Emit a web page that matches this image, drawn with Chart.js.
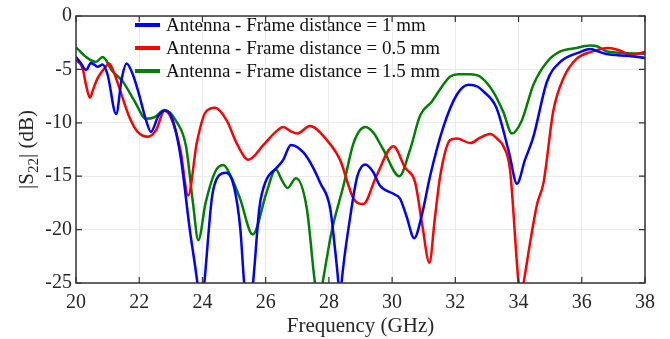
<!DOCTYPE html>
<html>
<head>
<meta charset="utf-8">
<script src="https://cdn.jsdelivr.net/npm/chart.js@4/dist/chart.umd.min.js"></script>
<style>
html,body{margin:0;padding:0;background:#fff;}
canvas{display:block;}
</style>
</head>
<body>
<canvas id="c" width="670" height="339"></canvas>
<script>
// ---- data ----
const seriesLabels = [
  "Antenna - Frame distance = 1 mm",
  "Antenna - Frame distance = 0.5 mm",
  "Antenna - Frame distance = 1.5 mm"
];
const xTicks = [20,22,24,26,28,30,32,34,36,38];
const yTicks = [0,-5,-10,-15,-20,-25];

const freq1mm = [20.0,20.15,20.32,20.47,20.69,20.84,21.0,21.27,21.45,21.6,21.8,22.0,22.2,22.37,22.6,22.8,23.0,23.3,23.6,23.84,23.95,24.06,24.3,24.5,24.75,25.0,25.2,25.32,25.46,25.6,25.8,26.0,26.35,26.55,26.8,27.2,27.5,27.72,28.04,28.2,28.3,28.35,28.4,28.67,28.9,29.15,29.4,29.62,30.04,30.25,30.45,30.7,30.95,31.2,31.62,32.05,32.42,32.7,32.88,33.3,33.7,33.95,34.2,34.47,34.9,35.32,35.95,36.27,36.5,36.74,37.5,38.0];
const s22_1mm = [-3.84,-4.4,-5.06,-4.39,-4.75,-4.54,-5.5,-9.18,-5.8,-4.45,-5.5,-7.4,-9.6,-10.85,-9.4,-8.87,-9.3,-13,-20,-25,-28,-25,-17,-15,-14.67,-16,-20,-25,-28,-25,-18,-15.5,-14.2,-13.5,-12.07,-12.8,-14.2,-15.6,-18.0,-22,-25,-27,-25,-18.9,-15,-13.9,-14.6,-15.9,-16.65,-17.1,-18.7,-20.8,-18.5,-15.0,-10.4,-7.35,-6.43,-6.6,-7.04,-8.6,-12.8,-15.7,-13.5,-11.3,-6.13,-4.3,-3.38,-3.08,-3.3,-3.53,-3.75,-3.93];

const freq05mm = [20.0,20.21,20.32,20.44,20.55,20.69,20.9,21.05,21.2,21.37,21.69,21.95,22.27,22.53,22.8,23.0,23.3,23.55,23.82,24.1,24.4,24.77,25.08,25.45,25.93,26.3,26.56,26.8,27.0,27.4,27.93,28.35,28.78,29.09,29.5,30.04,30.41,30.73,30.95,31.18,31.35,31.52,31.84,32.05,32.47,32.78,33.1,33.36,33.52,33.73,34.0,34.08,34.16,34.58,34.79,35.1,35.42,35.84,36.27,36.85,37.2,37.53,38.0];
const s22_05mm = [-4.14,-4.9,-6.5,-7.65,-6.8,-5.8,-4.9,-4.45,-5.3,-6.73,-9.48,-10.85,-11.3,-10.7,-8.87,-9.5,-12.5,-16.8,-11.9,-9.0,-8.6,-9.8,-11.9,-13.45,-12.07,-10.9,-10.4,-10.8,-11.0,-10.3,-11.6,-13.45,-17.1,-17.6,-15.0,-12.2,-14.2,-15.6,-19.5,-23.1,-19,-15.0,-11.6,-11.46,-11.9,-11.4,-11.05,-11.6,-12.2,-14.4,-25,-26.5,-25,-17.7,-15.6,-8.87,-5.82,-4.0,-3.38,-2.99,-3.23,-3.63,-3.38];

const freq15mm = [20.0,20.32,20.63,20.84,21.16,21.48,21.85,22.22,22.48,22.8,23.16,23.48,23.7,23.87,24.1,24.4,24.66,24.9,25.19,25.59,26.03,26.32,26.5,26.69,26.96,27.3,27.56,27.68,27.8,28.1,28.46,28.78,29.15,29.4,29.72,30.23,30.57,30.89,31.26,31.6,31.84,32.1,32.47,32.78,33.2,33.52,33.79,34.1,34.47,34.9,35.32,35.84,36.27,36.48,36.8,38.0];
const s22_15mm = [-2.93,-3.84,-4.3,-3.84,-5.2,-6.13,-7.96,-9.63,-9.48,-8.8,-9.8,-12.2,-17.5,-21.0,-17.5,-14.6,-13.96,-15,-17.1,-20.46,-16.5,-14.35,-15.3,-16.1,-15.2,-18.0,-25,-27,-25,-20,-15.9,-11.9,-10.4,-10.9,-12.5,-15.0,-12.5,-9.3,-8.0,-6.5,-5.67,-5.45,-5.45,-5.67,-7.1,-9.0,-11.0,-9.8,-6.43,-4.3,-3.32,-2.99,-2.77,-2.83,-3.32,-3.53];

const colors = ["#0000ff","#ff0000","#008000"];
// ---- end data ----

const FONT = "'Liberation Serif', 'Times New Roman', serif";
const TXT = "#262626";

function pts(xs, ys){ return xs.map((x,i)=>({x:x, y:ys[i]})); }

const datasets = [
  {label: seriesLabels[0], data: pts(freq1mm, s22_1mm), borderColor: colors[0]},
  {label: seriesLabels[1], data: pts(freq05mm, s22_05mm), borderColor: colors[1]},
  {label: seriesLabels[2], data: pts(freq15mm, s22_15mm), borderColor: colors[2]}
].map(d => Object.assign(d, {
  borderWidth: 2.5, pointRadius: 0, fill: false, tension: 0.4,
  cubicInterpolationMode: 'monotone', clip: 0
}));

const decor = {
  id: 'decor',
  afterDraw(chart){
    const ctx = chart.ctx, a = chart.chartArea;
    const xs = chart.scales.x, ys = chart.scales.y;
    ctx.save();
    // frame
    ctx.strokeStyle = '#333333';
    ctx.lineWidth = 1.5;
    ctx.strokeRect(a.left, a.top, a.right - a.left, a.bottom - a.top);
    // inner ticks
    ctx.lineWidth = 1.2;
    const tl = 6;
    ctx.beginPath();
    xTicks.forEach(v => {
      const p = xs.getPixelForValue(v);
      ctx.moveTo(p, a.bottom); ctx.lineTo(p, a.bottom - tl);
      ctx.moveTo(p, a.top); ctx.lineTo(p, a.top + tl);
    });
    yTicks.forEach(v => {
      const p = ys.getPixelForValue(v);
      ctx.moveTo(a.left, p); ctx.lineTo(a.left + tl, p);
      ctx.moveTo(a.right, p); ctx.lineTo(a.right - tl, p);
    });
    ctx.stroke();

    // x title
    ctx.fillStyle = TXT;
    ctx.font = "21px " + FONT;
    ctx.textAlign = 'center';
    ctx.textBaseline = 'middle';
    ctx.fillText("Frequency (GHz)", (a.left + a.right)/2, 326);

    // y title with subscript
    ctx.translate(26, (a.top + a.bottom)/2);
    ctx.rotate(-Math.PI/2);
    ctx.textBaseline = 'alphabetic';
    ctx.textAlign = 'left';
    const big = "21px " + FONT, small = "15px " + FONT;
    ctx.font = big; const w1 = ctx.measureText("|S").width;
    ctx.font = small; const w2 = ctx.measureText("22").width;
    ctx.font = big; const w3 = ctx.measureText("| (dB)").width;
    let x0 = -(w1 + w2 + w3)/2;
    ctx.font = big; ctx.fillText("|S", x0, 7);
    ctx.font = small; ctx.fillText("22", x0 + w1, 12);
    ctx.font = big; ctx.fillText("| (dB)", x0 + w1 + w2, 7);
    ctx.restore();

    // legend
    ctx.save();
    ctx.font = "19px " + FONT;
    ctx.textBaseline = 'middle';
    ctx.textAlign = 'left';
    chart.data.datasets.forEach((d, i) => {
      const y = 25 + i * 23;
      ctx.strokeStyle = d.borderColor;
      ctx.lineWidth = 4;
      ctx.beginPath();
      ctx.moveTo(135, y); ctx.lineTo(160, y);
      ctx.stroke();
      ctx.fillStyle = '#111111';
      ctx.fillText(d.label, 166, y + 1);
    });
    ctx.restore();
  }
};

new Chart(document.getElementById('c'), {
  type: 'line',
  data: { datasets: datasets },
  plugins: [decor],
  options: {
    responsive: false,
    animation: false,
    devicePixelRatio: 1,
    layout: { padding: { left: 0, right: 25, top: 10, bottom: 0 } },
    plugins: { legend: { display: false }, tooltip: { enabled: false } },
    scales: {
      x: {
        type: 'linear', min: 20, max: 38,
        afterBuildTicks: s => { s.ticks = xTicks.map(v => ({value: v})); },
        ticks: { font: { family: FONT, size: 20 }, color: TXT, padding: 8, maxRotation: 0 },
        grid: { color: '#ebebeb', lineWidth: 1, drawTicks: false },
        border: { display: false },
        afterFit: s => { s.height = 56; }
      },
      y: {
        type: 'linear', min: -25, max: 0,
        afterBuildTicks: s => { s.ticks = yTicks.map(v => ({value: v})); },
        ticks: { font: { family: FONT, size: 20 }, color: TXT, padding: 4 },
        grid: { color: '#ebebeb', lineWidth: 1, drawTicks: false },
        border: { display: false },
        afterFit: s => { s.width = 76; }
      }
    }
  }
});
</script>
</body>
</html>
